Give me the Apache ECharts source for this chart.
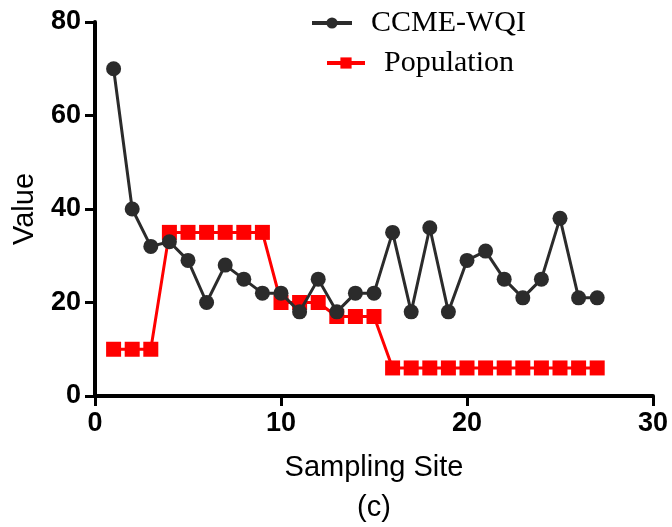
<!DOCTYPE html>
<html>
<head>
<meta charset="utf-8">
<script src="https://cdn.jsdelivr.net/npm/echarts@6/dist/echarts.min.js"></script>
<style>
  html, body { margin: 0; padding: 0; background: #fff; }
  #chart { width: 672px; height: 527px; }
</style>
</head>
<body>
<div id="chart"></div>
<script>
// sampling sites 1..27
var sites = [1, 2, 3, 4, 5, 6, 7, 8, 9, 10, 11, 12, 13, 14, 15, 16, 17, 18, 19, 20, 21, 22, 23, 24, 25, 26, 27]
var wqi = [70, 40, 32, 33, 29, 20, 28, 25, 22, 22, 18, 25, 18, 22, 22, 35, 18, 36, 18, 29, 31, 25, 21, 25, 38, 21, 21]
var population = [10, 10, 10, 35, 35, 35, 35, 35, 35, 20, 20, 20, 17, 17, 17, 6, 6, 6, 6, 6, 6, 6, 6, 6, 6, 6, 6]
var xTicks = [0, 10, 20, 30]
var yTicks = [0, 20, 40, 60, 80]

function pairs(ys) {
  return sites.map(function (x, i) { return [x, ys[i]] })
}

var myChart = echarts.init(document.getElementById('chart'))

var axisFont = { color: '#000', fontFamily: 'Liberation Sans', fontWeight: 'bold', fontSize: 27 }
var legendText = { fontFamily: 'Liberation Serif', fontSize: 30, color: '#000', padding: [0, 0, 0, 14] }

var option = {
  animation: false,
  legend: [
    {
      left: 305, top: 3, itemWidth: 40, itemHeight: 14,
      lineStyle: { width: 4 },
      textStyle: legendText,
      data: ['CCME-WQI']
    },
    {
      left: 320, top: 43, itemWidth: 38, itemHeight: 14,
      lineStyle: { width: 4 },
      textStyle: legendText,
      data: ['Population']
    }
  ],
  grid: { left: 95, right: 19, top: 22, bottom: 131, outerBoundsMode: 'none' },
  xAxis: {
    type: 'value',
    min: xTicks[0],
    max: xTicks[xTicks.length - 1],
    interval: 10,
    name: 'Sampling Site\n(c)',
    nameLocation: 'middle',
    nameGap: 52,
    nameTextStyle: { color: '#000', fontFamily: 'Liberation Sans', fontSize: 29, lineHeight: 40, verticalAlign: 'top' },
    axisLine: { onZero: false, lineStyle: { color: '#000', width: 4 } },
    axisTick: { length: 10, lineStyle: { color: '#000', width: 3 } },
    axisLabel: Object.assign({ margin: 14 }, axisFont),
    splitLine: { show: false }
  },
  yAxis: {
    type: 'value',
    min: yTicks[0],
    max: yTicks[yTicks.length - 1],
    interval: 20,
    name: 'Value',
    nameLocation: 'middle',
    nameGap: 56,
    nameTextStyle: { color: '#000', fontFamily: 'Liberation Sans', fontSize: 29 },
    axisLine: { show: true, lineStyle: { color: '#000', width: 4 } },
    axisTick: { show: true, length: 10, lineStyle: { color: '#000', width: 3 } },
    axisLabel: Object.assign({ margin: 14 }, axisFont),
    splitLine: { show: false }
  },
  series: [
    {
      name: 'Population',
      type: 'line',
      data: pairs(population),
      symbol: 'rect',
      symbolSize: 15,
      itemStyle: { color: '#ff0000' },
      lineStyle: { color: '#ff0000', width: 3 },
      z: 2
    },
    {
      name: 'CCME-WQI',
      type: 'line',
      data: pairs(wqi),
      symbol: 'circle',
      symbolSize: 15,
      itemStyle: { color: '#2b2b2b' },
      lineStyle: { color: '#2b2b2b', width: 3 },
      z: 3
    }
  ]
}

myChart.setOption(option)
</script>
</body>
</html>
